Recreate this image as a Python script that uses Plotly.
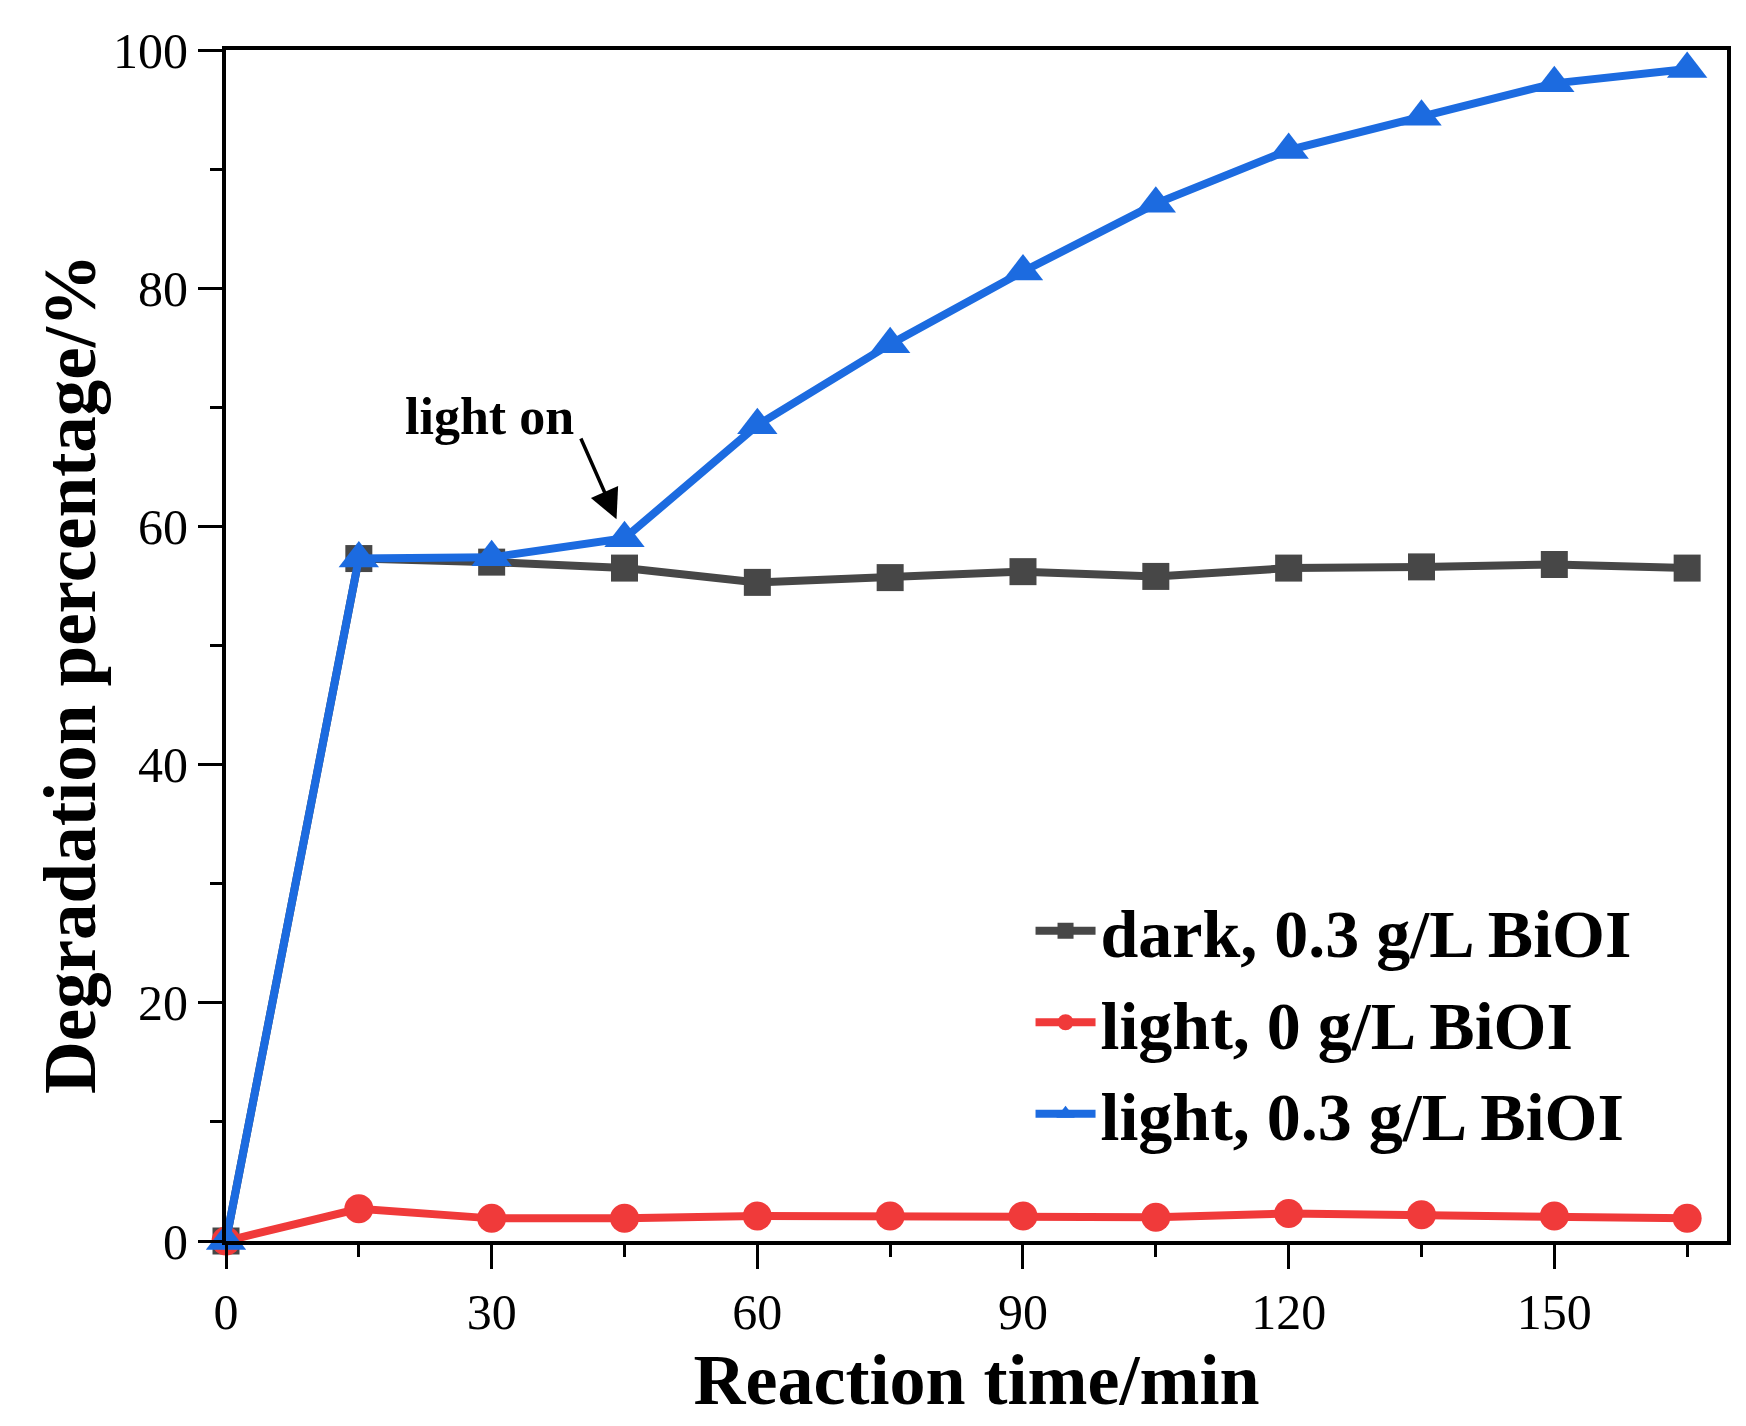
import plotly.graph_objects as go

# Tiempo de reacción (min)
tiempo = [0, 15, 30, 45, 60, 75, 90, 105, 120, 135, 150, 165]

# Porcentaje de degradación
oscuro_03 = [0, 57.3, 57.0, 56.5, 55.3, 55.7, 56.2, 55.8, 56.5, 56.6, 56.8, 56.5]
luz_0 = [0, 2.7, 1.9, 1.9, 2.1, 2.1, 2.1, 2.0, 2.3, 2.2, 2.1, 1.9]
luz_03 = [0, 57.3, 57.4, 59.0, 68.5, 75.3, 81.4, 87.1, 91.6, 94.4, 97.2, 98.4]

nombres = ["dark, 0.3 g/L BiOI", "light, 0 g/L BiOI", "light, 0.3 g/L BiOI"]

x_ticks = [0, 30, 60, 90, 120, 150]
x_minor = [15, 45, 75, 105, 135, 165]
y_ticks = [0, 20, 40, 60, 80, 100]
y_minor = [10, 30, 50, 70, 90]

FUENTE = "Liberation Serif, Times New Roman, serif"

series = [
    (oscuro_03, nombres[0], "#474747", "square", 27),
    (luz_0, nombres[1], "#f03a3a", "circle", 29),
    (luz_03, nombres[2], "#1c6be0", "triangle-up", 35),
]

fig = go.Figure()

for valores, nombre, color, simbolo, tam in series:
    fig.add_trace(go.Scatter(
        x=tiempo,
        y=valores,
        mode="lines+markers",
        name=nombre,
        line=dict(color=color, width=8),
        marker=dict(symbol=simbolo, size=tam, color=color),
        cliponaxis=False
    ))

# Flecha "light on"
fig.add_annotation(
    x=44.1, y=60.6, ax=40.0, ay=67.5,
    xref="x", yref="y", axref="x", ayref="y",
    text="", showarrow=True,
    arrowhead=2, arrowsize=1.7, arrowwidth=3.5, arrowcolor="black"
)
fig.add_annotation(
    x=29.8, y=69.2, xref="x", yref="y",
    text="light on", showarrow=False,
    font=dict(family=FUENTE, size=52, color="black", weight="bold")
)

# Título del eje Y (un poco por debajo del centro, como en el original)
fig.add_annotation(
    x=-0.104, y=0.476, xref="paper", yref="paper",
    text="Degradation percentage/%", textangle=-90, showarrow=False,
    xanchor="center", yanchor="middle",
    font=dict(family=FUENTE, size=73, color="black", weight="bold")
)

eje = dict(
    showline=True, linewidth=4, linecolor="black", mirror=True,
    showgrid=False, zeroline=False,
    ticks="outside", ticklen=24, tickwidth=3, tickcolor="black",
    tickfont=dict(family=FUENTE, size=50, color="black"),
)

fig.update_xaxes(
    **eje,
    range=[0, 169.5],
    tickvals=x_ticks,
    minor=dict(tickvals=x_minor, ticks="outside", ticklen=12, tickwidth=3, tickcolor="black"),
    title=dict(text="Reaction time/min", standoff=10,
               font=dict(family=FUENTE, size=72, color="black", weight="bold"))
)
fig.update_yaxes(
    **eje,
    range=[0, 100],
    tickvals=y_ticks,
    minor=dict(tickvals=y_minor, ticks="outside", ticklen=12, tickwidth=3, tickcolor="black"),
)

fig.update_layout(
    width=1746,
    height=1426,
    margin=dict(l=218, r=27, t=42, b=193),
    plot_bgcolor="white",
    paper_bgcolor="white",
    font=dict(family=FUENTE, color="black"),
    legend=dict(
        x=0.536, y=0.303, xanchor="left", yanchor="top",
        bgcolor="rgba(0,0,0,0)",
        font=dict(family=FUENTE, size=68, color="black", weight="bold"),
        itemwidth=60, tracegroupgap=0
    )
)

fig.write_html("out.html")
